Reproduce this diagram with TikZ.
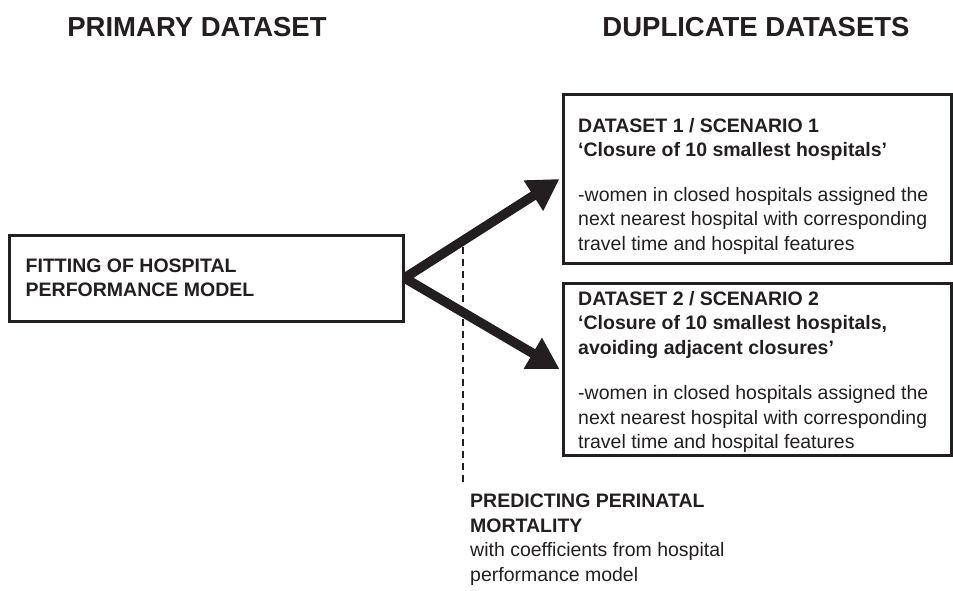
\documentclass[tikz,border=0pt]{standalone}
\usepackage{fontspec}
\setmainfont{Liberation Sans}
\usetikzlibrary{arrows.meta,calc}
\definecolor{ink}{HTML}{231F20}
\begin{document}
\begin{tikzpicture}[x=1pt,y=-1pt,
  box/.style={draw=ink,line width=3pt,rectangle,inner sep=0pt},
  body/.style={text=ink,font=\fontsize{19.5}{24.5}\selectfont,align=left,inner sep=0pt},
  head/.style={text=ink,font=\fontsize{27.5}{32}\selectfont\bfseries,inner sep=0pt},
  bigarrow/.style={draw=ink,line width=9.5pt,-{Triangle[length=31pt,width=34pt]}},
  guide/.style={draw=ink,line width=1.8pt,dash pattern=on 7pt off 5pt}]
\useasboundingbox (0,0) rectangle (953,591);
\node[head] (h1) at (197,27) {PRIMARY DATASET};
\node[head] (h2) at (756,27) {DUPLICATE DATASETS};
\node[box,minimum width=394pt,minimum height=86pt] (fit) at (206,278) {};
\node[body,font=\fontsize{19.5}{24.5}\selectfont\bfseries,anchor=west] (fittext) at ($(fit.west)+(18,0)$) {FITTING OF HOSPITAL\\PERFORMANCE MODEL};
\node[box,minimum width=388pt,minimum height=168pt] (ds1) at (757,179) {};
\node[box,minimum width=388pt,minimum height=172pt] (ds2) at (757,369) {};
\node[body,anchor=north west] (ds1text) at (578,118) {\textbf{DATASET 1 / SCENARIO 1}\\\textbf{‘Closure of 10 smallest hospitals’}\\[20pt]-women in closed hospitals assigned the\\next nearest hospital with corresponding\\travel time and hospital features};
\node[body,anchor=north west] (ds2text) at (578,291) {\textbf{DATASET 2 / SCENARIO 2}\\\textbf{‘Closure of 10 smallest hospitals,}\\\textbf{avoiding adjacent closures’}\\[21pt]-women in closed hospitals assigned the\\next nearest hospital with corresponding\\travel time and hospital features};
\node[body,anchor=north west] (pred) at (470,494) {\textbf{PREDICTING PERINATAL}\\\textbf{MORTALITY}\\with coefficients from hospital\\performance model};
\coordinate (dtop) at (463,247);
\coordinate (dbot) at (463,482);
\draw[guide] (dtop) -- (dbot);
\draw[bigarrow] (fit.east) -- ($(ds1.west)+(-2,0)$);
\draw[bigarrow] (fit.east) -- ($(ds2.west)+(-2,0)$);
\end{tikzpicture}
\end{document}
